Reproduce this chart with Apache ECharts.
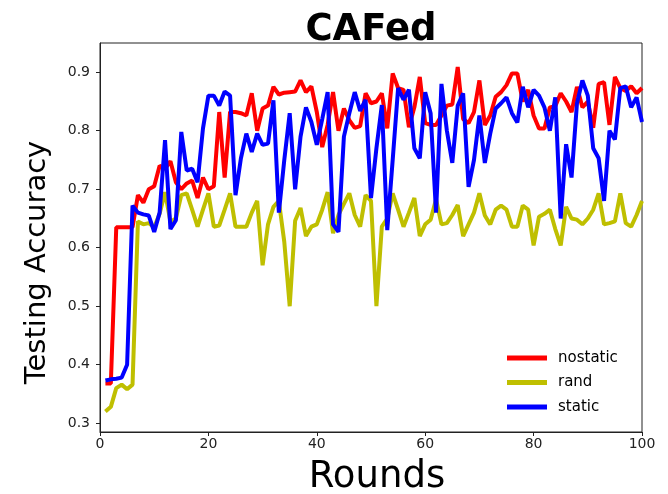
<!DOCTYPE html>
<html>
<head>
<meta charset="utf-8">
<script src="https://cdn.jsdelivr.net/npm/echarts@6/dist/echarts.min.js"></script>
<style>
  html, body { margin: 0; padding: 0; background: #fff; }
  #chart { width: 668px; height: 494px; }
</style>
</head>
<body>
<div id="chart"></div>
<script>
// rounds 1..100
const rounds = Array.from({ length: 100 }, (_, i) => i + 1);

const nostatic = [
  0.368, 0.368, 0.635, 0.635, 0.635, 0.635, 0.690, 0.677, 0.700, 0.705,
  0.740, 0.735, 0.748, 0.712, 0.700, 0.710, 0.715, 0.685, 0.720, 0.700,
  0.705, 0.832, 0.720, 0.832, 0.832, 0.830, 0.826, 0.864, 0.800, 0.838,
  0.843, 0.875, 0.862, 0.865, 0.866, 0.867, 0.886, 0.866, 0.876, 0.832,
  0.772, 0.810, 0.866, 0.800, 0.838, 0.818, 0.805, 0.808, 0.864, 0.847,
  0.850, 0.864, 0.804, 0.898, 0.873, 0.870, 0.806, 0.840, 0.892, 0.813,
  0.810, 0.810, 0.826, 0.843, 0.845, 0.909, 0.820, 0.813, 0.832, 0.886,
  0.810, 0.826, 0.858, 0.866, 0.878, 0.898, 0.898, 0.850, 0.870, 0.826,
  0.804, 0.804, 0.840, 0.842, 0.864, 0.850, 0.832, 0.875, 0.840, 0.850,
  0.805, 0.880, 0.883, 0.810, 0.892, 0.873, 0.868, 0.876, 0.864, 0.873
];

const rand = [
  0.320, 0.328, 0.360, 0.366, 0.358, 0.366, 0.645, 0.640, 0.642, 0.635,
  0.658, 0.695, 0.644, 0.650, 0.690, 0.693, 0.665, 0.636, 0.665, 0.693,
  0.636, 0.638, 0.665, 0.693, 0.636, 0.636, 0.636, 0.660, 0.680, 0.570,
  0.640, 0.670, 0.680, 0.610, 0.500, 0.646, 0.668, 0.620, 0.636, 0.640,
  0.665, 0.695, 0.625, 0.656, 0.675, 0.693, 0.656, 0.636, 0.690, 0.680,
  0.500, 0.636, 0.650, 0.693, 0.665, 0.636, 0.660, 0.685, 0.620, 0.640,
  0.648, 0.683, 0.640, 0.642, 0.656, 0.673, 0.620, 0.640, 0.660, 0.693,
  0.655, 0.640, 0.665, 0.672, 0.665, 0.636, 0.636, 0.672, 0.665, 0.604,
  0.653, 0.658, 0.665, 0.632, 0.604, 0.670, 0.650, 0.648, 0.640, 0.650,
  0.665, 0.693, 0.640, 0.642, 0.645, 0.693, 0.642, 0.636, 0.656, 0.680
];

const staticAcc = [
  0.373, 0.375, 0.376, 0.378, 0.400, 0.672, 0.660, 0.657, 0.655, 0.627,
  0.660, 0.784, 0.632, 0.647, 0.798, 0.732, 0.735, 0.712, 0.804, 0.860,
  0.860, 0.843, 0.867, 0.860, 0.690, 0.753, 0.795, 0.764, 0.795, 0.776,
  0.778, 0.852, 0.660, 0.750, 0.830, 0.700, 0.790, 0.840, 0.815, 0.776,
  0.820, 0.866, 0.640, 0.627, 0.790, 0.830, 0.866, 0.834, 0.853, 0.685,
  0.770, 0.844, 0.630, 0.750, 0.873, 0.853, 0.870, 0.770, 0.753, 0.866,
  0.830, 0.660, 0.880, 0.800, 0.745, 0.843, 0.864, 0.704, 0.750, 0.826,
  0.745, 0.795, 0.838, 0.847, 0.857, 0.830, 0.814, 0.875, 0.840, 0.870,
  0.860, 0.840, 0.800, 0.857, 0.650, 0.777, 0.720, 0.847, 0.886, 0.860,
  0.770, 0.753, 0.680, 0.800, 0.785, 0.873, 0.876, 0.840, 0.857, 0.815
];

const yTicks = [0.3, 0.4, 0.5, 0.6, 0.7, 0.8, 0.9];

const pair = (ys) => ys.map((v, i) => [rounds[i], v]);

const chart = echarts.init(document.getElementById('chart'));

const font = 'DejaVu Sans';

chart.setOption({
  animation: false,
  backgroundColor: '#fff',
  title: {
    text: 'CAFed',
    left: 366,
    textAlign: 'center',
    top: 7,
    textStyle: { fontFamily: font, fontWeight: 'bold', fontSize: 37, color: '#000' }
  },
  grid: {
    left: 100, right: 26, top: 43, bottom: 62,
    outerBoundsMode: 'none',
    containLabel: false,
    show: true, borderColor: '#222', borderWidth: 1
  },
  legend: {
    orient: 'vertical',
    left: 502,
    top: 344,
    itemWidth: 40,
    itemHeight: 5,
    itemGap: 6.5,
    icon: 'rect',
    textStyle: { fontFamily: font, fontSize: 15, color: '#000', lineHeight: 18, padding: [0, 0, 0, 6] },
    data: ['nostatic', 'rand', 'static']
  },
  xAxis: {
    type: 'value',
    min: 0, max: 100, interval: 20,
    name: 'Rounds',
    nameLocation: 'middle',
    nameGap: 27,
    nameTextStyle: { fontFamily: font, fontSize: 37, color: '#000', padding: [0, 0, 0, 12] },
    axisLine: { show: true, lineStyle: { color: '#222', width: 1 } },
    axisTick: { show: true, inside: false, length: 4, lineStyle: { color: '#222' } },
    axisLabel: { fontFamily: font, fontSize: 14, color: '#222', margin: 5 },
    splitLine: { show: false }
  },
  yAxis: {
    type: 'value',
    min: 0.285, max: 0.95,
    name: 'Testing Accuracy',
    nameLocation: 'middle',
    nameGap: 48,
    nameTextStyle: { fontFamily: font, fontSize: 29, color: '#000', padding: [0, 50, 0, 0] },
    axisLine: { show: true, lineStyle: { color: '#222', width: 1 } },
    axisTick: { show: true, inside: false, length: 4, lineStyle: { color: '#222' }, customValues: yTicks },
    axisLabel: {
      fontFamily: font, fontSize: 14, color: '#222', margin: 10,
      customValues: yTicks,
      formatter: (v) => v.toFixed(1)
    },
    splitLine: { show: false }
  },
  series: [
    {
      name: 'nostatic', type: 'line', data: pair(nostatic),
      showSymbol: false, symbol: 'none',
      color: '#ff0000', lineStyle: { width: 4, color: '#ff0000' }
    },
    {
      name: 'rand', type: 'line', data: pair(rand),
      showSymbol: false, symbol: 'none',
      color: '#bfbf00', lineStyle: { width: 4, color: '#bfbf00' }
    },
    {
      name: 'static', type: 'line', data: pair(staticAcc),
      showSymbol: false, symbol: 'none',
      color: '#0000ff', lineStyle: { width: 4, color: '#0000ff' }
    }
  ]
});
</script>
</body>
</html>
